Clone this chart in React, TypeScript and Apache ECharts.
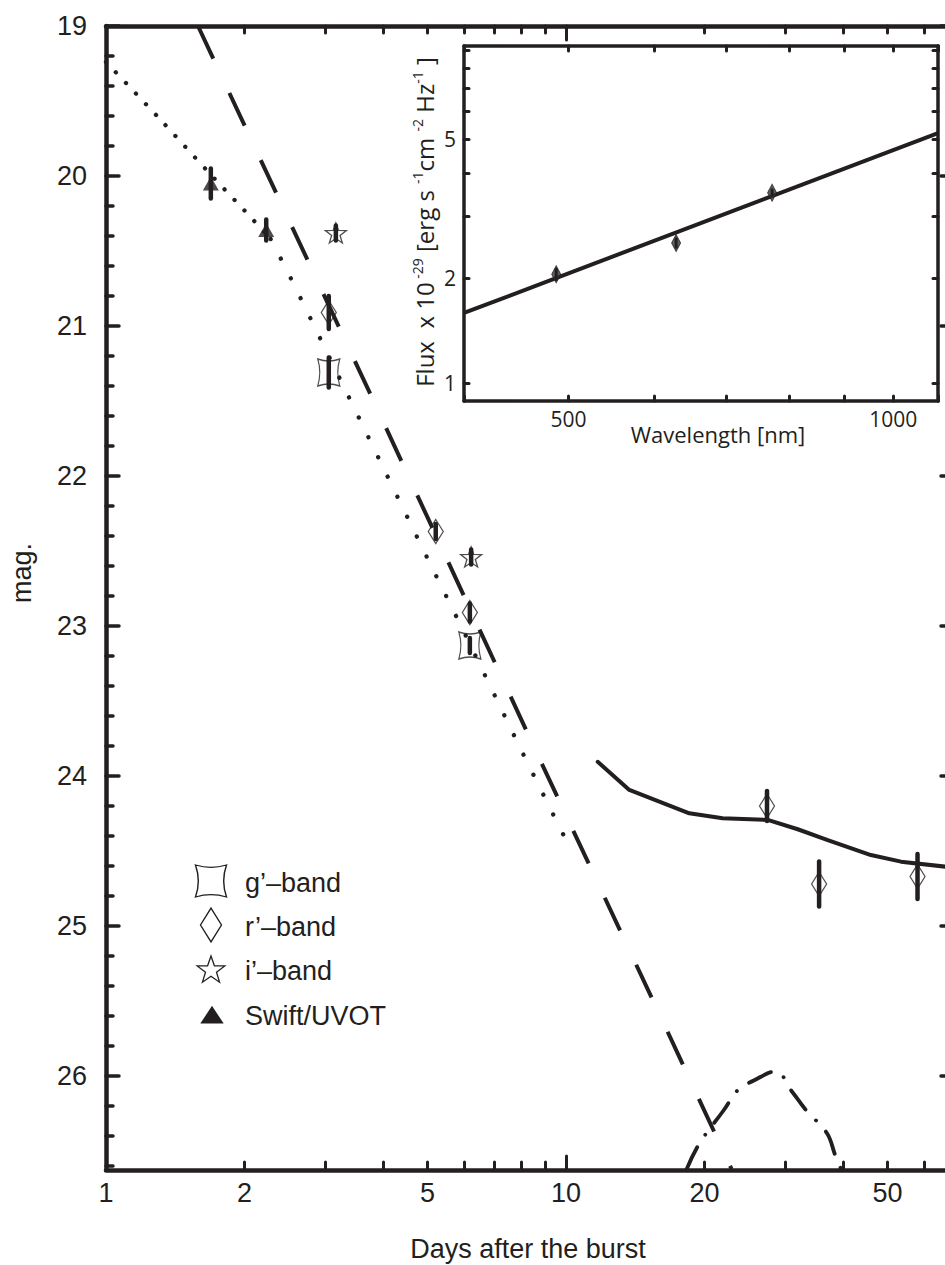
import React, { useEffect, useRef } from 'react';
import * as echarts from 'echarts';

// ---------- main light-curve data (days after burst, magnitude) ----------
const G_DAYS = [3.05, 6.18];
const G_MAG = [21.31, 23.13];
const G_ERR = [0.1, 0.05];

const R_DAYS = [3.05, 5.21, 6.18, 27.35, 35.5, 58.1];
const R_MAG = [20.91, 22.37, 22.91, 24.2, 24.72, 24.67];
const R_ERR = [0.11, 0.05, 0.06, 0.1, 0.15, 0.15];

const I_DAYS = [3.16, 6.22];
const I_MAG = [20.38, 22.54];
const I_ERR = [0.05, 0.05];

const UVOT_DAYS = [1.69, 2.23];
const UVOT_MAG = [20.05, 20.36];
const UVOT_ERR = [0.1, 0.07];

// dotted afterglow model (two parts of the broken power law)
const AG_EARLY_DAYS = [1.0, 1.3, 1.7, 2.0, 2.28];
const AG_EARLY_MAG = [19.24, 19.61, 20.0, 20.23, 20.42];
const AG_LATE_DAYS = [2.28, 2.52, 3.0, 4.0, 5.0, 6.0, 8.0, 9.9];
const AG_LATE_MAG = [20.42, 20.68, 21.155, 21.94, 22.55, 23.04, 23.83, 24.4];

// long-dashed model
const STEEP_DAYS = [1.585, 3.83, 8.5, 16.2, 22.9];
const STEEP_MAG = [19.0, 21.51, 23.8, 25.63, 26.62];

// dash-dot supernova bump
const SN_DAYS = [18.3, 19.5, 22.0, 23.7, 25.6, 28.5, 31.1, 33.3, 36.9, 38.5, 39.6];
const SN_MAG = [26.62, 26.45, 26.23, 26.09, 26.03, 25.97, 26.11, 26.23, 26.38, 26.53, 26.62];

// solid late-time curve
const HOST_DAYS = [11.72, 13.73, 18.54, 21.9, 27.45, 31.9, 37.07, 46.0, 53.5, 67.0];
const HOST_MAG = [23.905, 24.093, 24.249, 24.282, 24.293, 24.355, 24.427, 24.527, 24.571, 24.605];

// axis ticks / labels
const X_LABEL_DAYS = [1, 2, 5, 10, 20, 50];
const X_TICK_SHORT_DAYS = [2, 3, 4, 5, 6, 7, 8, 9, 20, 30, 40, 50, 60];
const X_TICK_LONG_DAYS = [1, 10];
const Y_LABELS = [19, 20, 21, 22, 23, 24, 25, 26];
const Y_MINOR: number[] = [];
for (let k = 0; k <= 38; k++) {
  if (k % 5 !== 0) Y_MINOR.push(+(19 + k * 0.2).toFixed(1));
}

// ---------- inset SED data ----------
const SED_WAVE = [487, 629, 772];
const SED_FLUX = [2.05, 2.52, 3.51];
const SED_ERR = [0.07, 0.07, 0.07];
const FIT_WAVE = [400, 1100];
const FIT_FLUX = [1.587, 5.2];
const WAVE_TICKS = [400, 500, 600, 700, 800, 900, 1000, 1100];
const WAVE_LABELS = [500, 1000];
const FLUX_TICKS = [1, 2, 3, 4, 5, 6, 7, 8, 9];
const FLUX_LABELS = [1, 2, 5];

// ---------- styles ----------
const INK = '#231f20';
const SANS = '"Liberation Sans", Arial, Helvetica, sans-serif';
const INSET_FONT = '"Open Sans", "Liberation Sans", sans-serif';

const GBAND_PATH = 'M0,0 Q11,4 22,0 Q18,13.5 22,27 Q11,23 0,27 Q4,13.5 0,0 Z';
const DIAMOND_PATH = 'M7.5,0 L15,13 L7.5,26 L0,13 Z';
const STAR_PATH =
  'M10,0 L12.35,6.76 L19.51,6.91 L13.8,11.24 L15.88,18.09 L10,14 L4.12,18.09 L6.2,11.24 L0.49,6.91 L7.65,6.76 Z';
const TRIANGLE_PATH = 'M8,0 L16,14 L0,14 Z';

echarts.graphic.registerShape('gbandIcon', echarts.graphic.extendPath(GBAND_PATH, {}));
echarts.graphic.registerShape('diamondIcon', echarts.graphic.extendPath(DIAMOND_PATH, {}));
echarts.graphic.registerShape('starIcon', echarts.graphic.extendPath(STAR_PATH, {}));
echarts.graphic.registerShape('triangleIcon', echarts.graphic.extendPath(TRIANGLE_PATH, {}));

const lg = (v: number) => Math.log10(v);
const pairs = (xs: number[], ys: number[]) => xs.map((x, i) => [lg(x), ys[i]]);
const errs = (xs: number[], ys: number[], es: number[]) =>
  xs.map((x, i) => [lg(x), ys[i] - es[i], ys[i] + es[i]]);
const logErrs = (xs: number[], ys: number[], es: number[]) =>
  xs.map((x, i) => [lg(x), lg(ys[i] - es[i]), lg(ys[i] + es[i])]);

const MAIN_X_MIN = 0;
const MAIN_X_MAX = (948 - 106) / 460;
const MAIN_Y_MIN = 19;
const MAIN_Y_MAX = 19 + 1144 / 150;
const INSET_X_MIN = lg(400);
const INSET_X_MAX = lg(1100);
const INSET_Y_MIN = -0.0516;
const INSET_Y_MAX = 0.9656;

const pow10Fmt = (v: number) => String(Math.round(Math.pow(10, v)));

function mkAxis(p: any) {
  return {
    type: 'value',
    gridIndex: p.grid,
    position: p.pos,
    min: p.min,
    max: p.max,
    inverse: !!p.inverse,
    splitLine: { show: false },
    axisPointer: { show: false },
    axisLine: { show: !!p.line, onZero: false, lineStyle: { color: INK, width: p.line || 1 } },
    axisTick: p.ticks
      ? {
          show: true,
          inside: true,
          length: p.tickLen,
          customValues: p.ticks,
          lineStyle: { color: INK, width: p.tickW, cap: 'round' },
        }
      : { show: false },
    axisLabel: p.labels
      ? {
          show: true,
          customValues: p.labels,
          formatter: p.fmt,
          margin: p.margin,
          color: INK,
          fontSize: p.size,
          fontFamily: p.font,
          hideOverlap: false,
        }
      : { show: false },
  };
}

function barRender(w: number) {
  return (params: any, api: any) => {
    const x = api.value(0);
    const p1 = api.coord([x, api.value(1)]);
    const p2 = api.coord([x, api.value(2)]);
    return {
      type: 'line',
      shape: { x1: p1[0], y1: p1[1], x2: p2[0], y2: p2[1] },
      style: { stroke: INK, lineWidth: w, lineCap: 'round' },
    };
  };
}

function buildOption(): any {
  const mainX = { min: MAIN_X_MIN, max: MAIN_X_MAX };
  const mainY = { min: MAIN_Y_MIN, max: MAIN_Y_MAX, inverse: true };
  const insX = { min: INSET_X_MIN, max: INSET_X_MAX };
  const insY = { min: INSET_Y_MIN, max: INSET_Y_MAX };

  const xAxis = [
    mkAxis({
      grid: 0, pos: 'bottom', ...mainX, line: 4.5,
      ticks: X_TICK_SHORT_DAYS.map(lg), tickLen: 8, tickW: 3,
      labels: X_LABEL_DAYS.map(lg), fmt: pow10Fmt, margin: 9, size: 27, font: SANS,
    }),
    mkAxis({ grid: 0, pos: 'bottom', ...mainX, ticks: X_TICK_LONG_DAYS.map(lg), tickLen: 14, tickW: 3 }),
    mkAxis({ grid: 0, pos: 'top', ...mainX, line: 4.5, ticks: X_TICK_SHORT_DAYS.map(lg), tickLen: 7, tickW: 3 }),
    mkAxis({ grid: 0, pos: 'top', ...mainX, ticks: X_TICK_LONG_DAYS.map(lg), tickLen: 14, tickW: 3 }),
    mkAxis({
      grid: 1, pos: 'bottom', ...insX, line: 3.5,
      ticks: WAVE_TICKS.map(lg), tickLen: 5, tickW: 3,
      labels: WAVE_LABELS.map(lg), fmt: pow10Fmt, margin: 7, size: 21, font: INSET_FONT,
    }),
    mkAxis({ grid: 1, pos: 'top', ...insX, line: 3.5, ticks: WAVE_TICKS.map(lg), tickLen: 5, tickW: 3 }),
  ];

  const yAxis = [
    mkAxis({
      grid: 0, pos: 'left', ...mainY, line: 4.5,
      ticks: Y_LABELS, tickLen: 13, tickW: 3.5,
      labels: Y_LABELS, fmt: (v: number) => String(Math.round(v)), margin: 19, size: 27, font: SANS,
    }),
    mkAxis({ grid: 0, pos: 'left', ...mainY, ticks: Y_MINOR, tickLen: 7, tickW: 3.5 }),
    mkAxis({ grid: 0, pos: 'right', ...mainY, line: 4.5, ticks: Y_LABELS, tickLen: 7, tickW: 3.5 }),
    mkAxis({
      grid: 1, pos: 'left', ...insY, line: 3.5,
      ticks: FLUX_TICKS.map(lg), tickLen: 5, tickW: 3,
      labels: FLUX_LABELS.map(lg), fmt: pow10Fmt, margin: 8, size: 21, font: INSET_FONT,
    }),
    mkAxis({ grid: 1, pos: 'right', ...insY, line: 3.5, ticks: FLUX_TICKS.map(lg), tickLen: 5, tickW: 3 }),
  ];

  const mainLine = (name: string, xs: number[], ys: number[], lineStyle: any, smooth: number | boolean = false) => ({
    name,
    type: 'line',
    xAxisIndex: 0,
    yAxisIndex: 0,
    data: pairs(xs, ys),
    symbol: 'none',
    showSymbol: false,
    smooth,
    clip: true,
    z: 2,
    lineStyle: { color: INK, ...lineStyle },
  });

  const outlineMarker = (name: string, xs: number[], ys: number[], symbol: string, size: number[], keep = false) => ({
    name,
    type: 'scatter',
    xAxisIndex: 0,
    yAxisIndex: 0,
    data: pairs(xs, ys),
    symbol,
    symbolSize: size,
    symbolKeepAspect: keep,
    z: 3,
    itemStyle: { color: 'rgba(255,255,255,0)', borderColor: INK, borderWidth: 1.3 },
  });

  const mainBars = (name: string, xs: number[], ys: number[], es: number[]) => ({
    name,
    type: 'custom',
    xAxisIndex: 0,
    yAxisIndex: 0,
    data: errs(xs, ys, es),
    encode: { x: 0, y: [1, 2] },
    renderItem: barRender(4.5),
    z: 4,
  });

  const series: any[] = [
    mainLine('afterglow (early)', AG_EARLY_DAYS, AG_EARLY_MAG, { width: 4.3, type: [0.1, 14.4], cap: 'round' }, 0.3),
    mainLine('afterglow (late)', AG_LATE_DAYS, AG_LATE_MAG, { width: 4.3, type: [0.1, 22], cap: 'round' }, 0.3),
    mainLine('steep model', STEEP_DAYS, STEEP_MAG, { width: 4, type: [36, 38], cap: 'butt' }),
    mainLine('SN bump', SN_DAYS, SN_MAG, { width: 3.8, type: [24, 15, 0.1, 15], cap: 'round' }, 0.4),
    mainLine('late component', HOST_DAYS, HOST_MAG, { width: 4, type: 'solid', cap: 'round', join: 'round' }),

    outlineMarker('g’–band', G_DAYS, G_MAG, 'path://' + GBAND_PATH, [22, 27]),
    outlineMarker('r’–band', R_DAYS, R_MAG, 'diamond', [15, 24]),
    outlineMarker('i’–band', I_DAYS, I_MAG, 'path://' + STAR_PATH, [21, 21], true),
    {
      name: 'Swift/UVOT',
      type: 'scatter',
      xAxisIndex: 0,
      yAxisIndex: 0,
      data: pairs(UVOT_DAYS, UVOT_MAG),
      symbol: 'triangle',
      symbolSize: [16, 14],
      z: 3,
      itemStyle: { color: INK },
    },
    mainBars('g’ errors', G_DAYS, G_MAG, G_ERR),
    mainBars('r’ errors', R_DAYS, R_MAG, R_ERR),
    mainBars('i’ errors', I_DAYS, I_MAG, I_ERR),
    mainBars('UVOT errors', UVOT_DAYS, UVOT_MAG, UVOT_ERR),

    // inset
    {
      name: 'power-law fit',
      type: 'line',
      xAxisIndex: 4,
      yAxisIndex: 3,
      data: FIT_WAVE.map((w, i) => [lg(w), lg(FIT_FLUX[i])]),
      symbol: 'none',
      showSymbol: false,
      clip: true,
      z: 2,
      lineStyle: { color: INK, width: 4 },
    },
    {
      name: 'SED',
      type: 'scatter',
      xAxisIndex: 4,
      yAxisIndex: 3,
      data: SED_WAVE.map((w, i) => [lg(w), lg(SED_FLUX[i])]),
      symbol: 'diamond',
      symbolSize: [9, 17],
      z: 3,
      itemStyle: { color: '#3a3a3a', borderColor: INK, borderWidth: 1 },
    },
    {
      name: 'SED errors',
      type: 'custom',
      xAxisIndex: 4,
      yAxisIndex: 3,
      data: logErrs(SED_WAVE, SED_FLUX, SED_ERR),
      encode: { x: 0, y: [1, 2] },
      renderItem: barRender(3),
      z: 4,
    },
  ];

  const legendRows = [
    { type: 'gbandIcon', label: 'g’–band', cx: 211, cy: 881, sx: 31 / 22, sy: 32 / 27, ox: 11, oy: 13.5, fill: 'none' },
    { type: 'diamondIcon', label: 'r’–band', cx: 211, cy: 925, sx: 1.4, sy: 1.3, ox: 7.5, oy: 13, fill: 'none' },
    { type: 'starIcon', label: 'i’–band', cx: 211, cy: 969, sx: 1.45, sy: 1.45, ox: 10, oy: 9, fill: 'none' },
    { type: 'triangleIcon', label: 'Swift/UVOT', cx: 212, cy: 1015, sx: 1.31, sy: 1.14, ox: 8, oy: 7, fill: INK },
  ];
  const textY = [883, 927, 971, 1016];

  const graphic: any[] = [];
  legendRows.forEach((r, i) => {
    graphic.push({
      type: r.type,
      x: r.cx - r.ox * r.sx,
      y: r.cy - r.oy * r.sy,
      scaleX: r.sx,
      scaleY: r.sy,
      style: { fill: r.fill, stroke: INK, lineWidth: 1.3, strokeNoScale: true },
      z: 10,
    });
    graphic.push({
      type: 'text',
      x: 245,
      y: textY[i],
      style: { text: r.label, fill: INK, fontSize: 27, fontFamily: SANS, align: 'left', verticalAlign: 'middle' },
      z: 10,
    });
  });

  graphic.push(
    {
      type: 'text',
      x: 22,
      y: 573,
      rotation: Math.PI / 2,
      style: { text: 'mag.', fill: INK, fontSize: 27, fontFamily: SANS, align: 'center', verticalAlign: 'middle' },
    },
    {
      type: 'text',
      x: 528,
      y: 1249,
      style: { text: 'Days after the burst', fill: INK, fontSize: 27, fontFamily: SANS, align: 'center', verticalAlign: 'middle' },
    },
    {
      type: 'text',
      x: 718,
      y: 434,
      style: { text: 'Wavelength [nm]', fill: INK, fontSize: 22, fontFamily: INSET_FONT, align: 'center', verticalAlign: 'middle' },
    },
    {
      type: 'text',
      x: 424,
      y: 222,
      rotation: Math.PI / 2,
      style: {
        text: '{n|Flux  x 10}{s| -29}{n| [erg s }{s|-1}{n|cm }{s|-2}{n| Hz}{s|-1}{n| ]}',
        align: 'center',
        verticalAlign: 'middle',
        fill: INK,
        fontSize: 24,
        fontFamily: INSET_FONT,
        rich: {
          n: { fontSize: 24, fontFamily: INSET_FONT, fill: INK, lineHeight: 28, verticalAlign: 'middle' },
          s: { fontSize: 14, fontFamily: INSET_FONT, fill: INK, lineHeight: 14, verticalAlign: 'top' },
        },
      },
    }
  );

  return {
    animation: false,
    backgroundColor: '#ffffff',
    grid: [
      { left: 106, top: 26, width: 842, height: 1144, containLabel: false, outerBoundsMode: 'none' },
      { left: 464, top: 46, width: 474, height: 355, containLabel: false, outerBoundsMode: 'none' },
    ],
    xAxis,
    yAxis,
    series,
    graphic,
  };
}

export default function App() {
  const ref = useRef<HTMLDivElement>(null);
  useEffect(() => {
    document.body.style.margin = '0';
    const chart = echarts.init(ref.current as HTMLDivElement, null, { renderer: 'svg' });
    chart.setOption(buildOption());
    return () => chart.dispose();
  }, []);
  return <div ref={ref} style={{ width: 945, height: 1265, background: '#fff' }} />;
}
